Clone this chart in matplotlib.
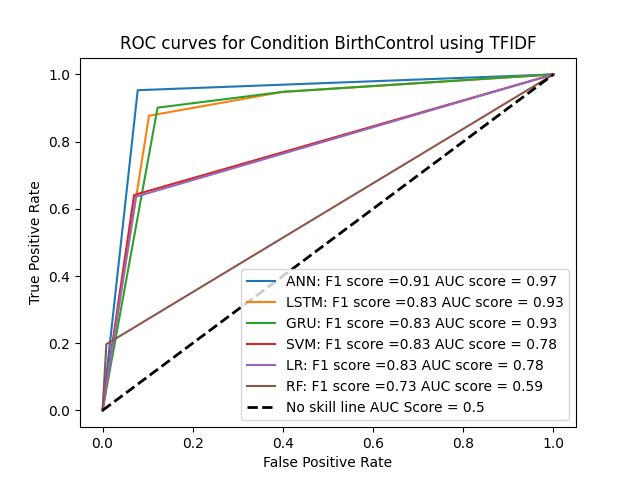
import matplotlib
matplotlib.use("Agg")
import matplotlib.pyplot as plt

labels = ["ANN: F1 score =0.91 AUC score = 0.97",
          "LSTM: F1 score =0.83 AUC score = 0.93",
          "GRU: F1 score =0.83 AUC score = 0.93",
          "SVM: F1 score =0.83 AUC score = 0.78",
          "LR: F1 score =0.83 AUC score = 0.78",
          "RF: F1 score =0.73 AUC score = 0.59"]
fpr_ann = [0.0, 0.078, 1.0]
tpr_ann = [0.0, 0.953, 1.0]
fpr_lstm = [0.0, 0.103, 0.40, 1.0]
tpr_lstm = [0.0, 0.877, 0.948, 1.0]
fpr_gru = [0.0, 0.122, 0.40, 1.0]
tpr_gru = [0.0, 0.901, 0.948, 1.0]
fpr_svm = [0.0, 0.070, 1.0]
tpr_svm = [0.0, 0.641, 1.0]
fpr_lr = [0.0, 0.074, 1.0]
tpr_lr = [0.0, 0.636, 1.0]
fpr_rf = [0.0, 0.0085, 1.0]
tpr_rf = [0.0, 0.197, 1.0]
noskill = [0.0, 1.0]

fig, ax = plt.subplots(figsize=(6.4, 4.8), dpi=100)
for f, t, lab in zip([fpr_ann, fpr_lstm, fpr_gru, fpr_svm, fpr_lr, fpr_rf],
                     [tpr_ann, tpr_lstm, tpr_gru, tpr_svm, tpr_lr, tpr_rf], labels):
    ax.plot(f, t, label=lab)
ax.plot(noskill, noskill, 'k--', lw=2, label="No skill line AUC Score = 0.5")
ax.set_title("ROC curves for Condition BirthControl using TFIDF")
ax.set_xlabel("False Positive Rate")
ax.set_ylabel("True Positive Rate")
ax.legend(loc="lower right")
fig.savefig("out.png")
